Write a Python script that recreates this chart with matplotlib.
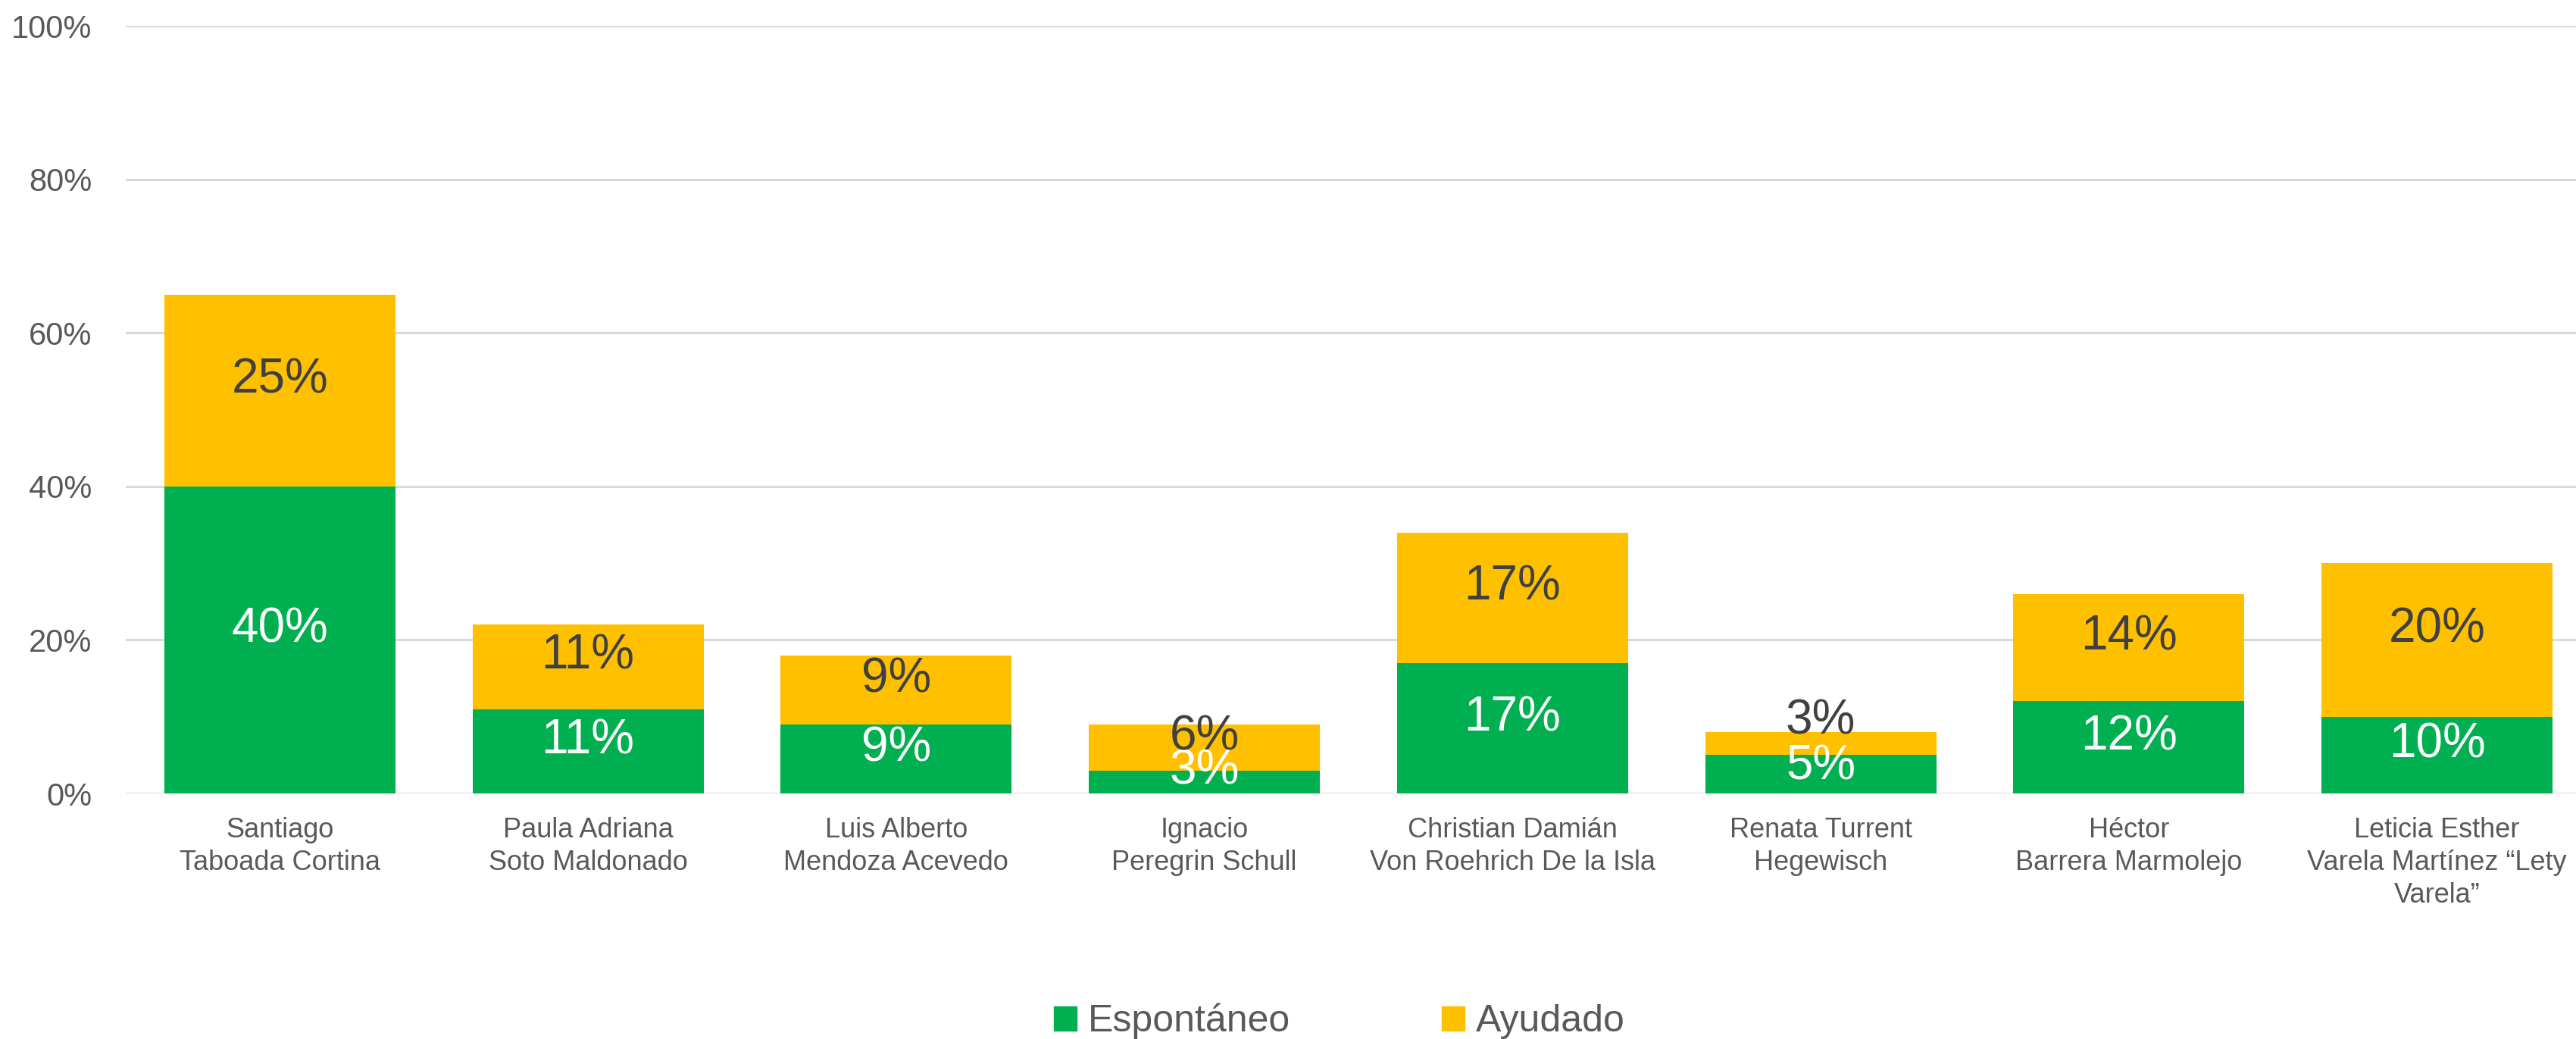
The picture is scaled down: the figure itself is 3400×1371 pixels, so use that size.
import matplotlib
matplotlib.use("Agg")
import matplotlib.pyplot as plt
from matplotlib.patches import Patch

# candidatos y porcentajes (espontáneo / ayudado)
candidatos = [
    "Santiago\nTaboada Cortina",
    "Paula Adriana\nSoto Maldonado",
    "Luis Alberto\nMendoza Acevedo",
    "Ignacio\nPeregrin Schull",
    "Christian Damián\nVon Roehrich De la Isla",
    "Renata Turrent\nHegewisch",
    "Héctor\nBarrera Marmolejo",
    "Leticia Esther\nVarela Martínez \u201cLety\nVarela\u201d",
]
espontaneo = [40, 11, 9, 3, 17, 5, 12, 10]
ayudado = [25, 11, 9, 6, 17, 3, 14, 20]
y_ticks = [0, 20, 40, 60, 80, 100]

VERDE = "#00B050"
AMARILLO = "#FFC000"
GRIS = "#595959"

# Excel movió un par de etiquetas para que no se encimaran (Renata)
AJUSTE_ETIQUETA = {(5, 0): 2.1, (5, 1): 8.1}

plt.rcParams["font.family"] = ["Liberation Sans", "DejaVu Sans"]

fig = plt.figure(figsize=(34, 13.71), dpi=100)
ax = fig.add_axes([0.0488, 0.2363, 0.9571, 0.7389])

x = list(range(len(candidatos)))
ax.bar(x, espontaneo, width=0.75, color=VERDE, zorder=2)
ax.bar(x, ayudado, width=0.75, bottom=espontaneo, color=AMARILLO, zorder=2)

for i in x:
    e, a = espontaneo[i], ayudado[i]
    y_e = AJUSTE_ETIQUETA.get((i, 0), e / 2)
    y_a = AJUSTE_ETIQUETA.get((i, 1), e + a / 2)
    ax.annotate(f"{e}%", (i, y_e), xytext=(0, 10), textcoords="offset points",
                ha="center", va="center", fontsize=46, color="white",
                zorder=3, annotation_clip=False, clip_on=True)
    ax.annotate(f"{a}%", (i, y_a), xytext=(0, 10), textcoords="offset points",
                ha="center", va="center", fontsize=46, color="#404040",
                zorder=4, annotation_clip=False, clip_on=True)

ax.set_xlim(-0.5, 7.5)
ax.set_ylim(0, 100)
ax.set_yticks(y_ticks)
ax.set_yticklabels([f"{v}%" for v in y_ticks])
ax.set_xticks(x)
ax.set_xticklabels(candidatos, fontsize=26, color=GRIS, linespacing=1.3)
ax.tick_params(axis="y", labelsize=30, labelcolor=GRIS, length=0, pad=32)
ax.tick_params(axis="x", length=0, pad=22)
ax.grid(axis="y", color="#D9D9D9", linewidth=2.2, zorder=0)
for s in ax.spines.values():
    s.set_visible(False)

handles = [Patch(color=VERDE, label="Espontáneo"), Patch(color=AMARILLO, label="Ayudado")]
fig.legend(handles=handles, loc="center", bbox_to_anchor=(0.52, 0.017), ncol=2,
           frameon=False, fontsize=36, labelcolor=GRIS, handlelength=0.6,
           handleheight=0.6, handletextpad=0.3, columnspacing=4.0)

fig.savefig("out.png", dpi=100, facecolor="white")
